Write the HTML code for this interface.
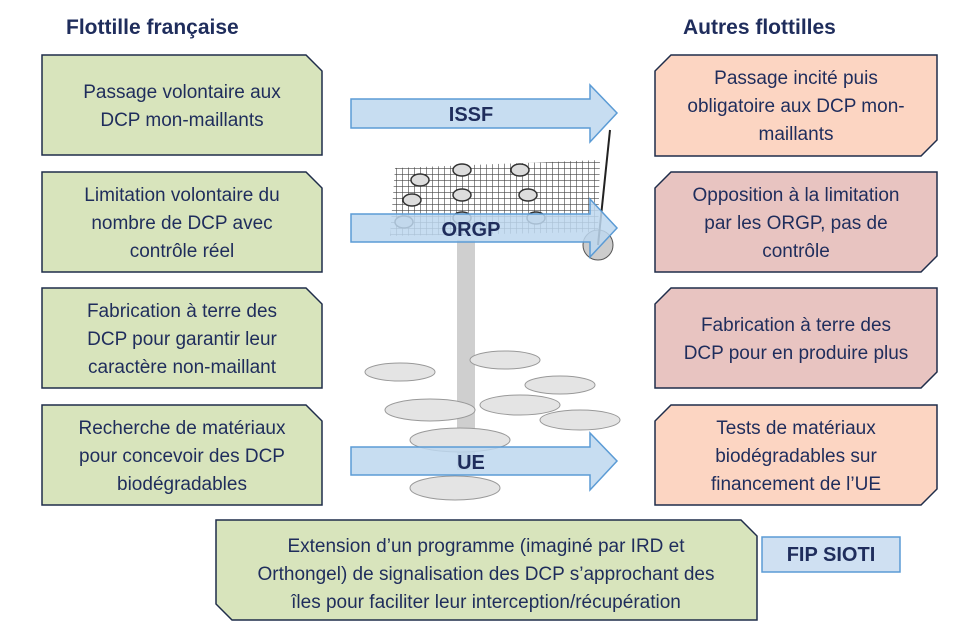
<!DOCTYPE html>
<html><head><meta charset="utf-8"><style>
body{margin:0;background:#fff}
svg{display:block;font-family:"Liberation Sans",sans-serif}
.t{font-size:19px;fill:#1f2d5c;text-anchor:middle}
.h{font-size:21px;font-weight:bold;fill:#1f2d5c}
.a{font-size:20px;font-weight:bold;fill:#1f2d5c;text-anchor:middle}
</style></head><body>
<svg width="980" height="634" viewBox="0 0 980 634">
<defs>
<pattern id="g" width="6" height="6" patternUnits="userSpaceOnUse"><path d="M0 0H6M0 0V6" stroke="#222" stroke-width="1.2" fill="none"/></pattern>
</defs>
<text class="h" x="66" y="34">Flottille française</text>
<text class="h" x="683" y="34">Autres flottilles</text>

<!-- illustration -->
<g>
<polygon points="395,168 600,160 598,232 390,236" fill="url(#g)" opacity="0.85"/>
<g fill="#ddd" stroke="#333" stroke-width="1.5">
<ellipse cx="420" cy="180" rx="9" ry="6"/><ellipse cx="412" cy="200" rx="9" ry="6"/><ellipse cx="404" cy="222" rx="9" ry="6"/>
<ellipse cx="462" cy="170" rx="9" ry="6"/><ellipse cx="462" cy="195" rx="9" ry="6"/><ellipse cx="462" cy="218" rx="9" ry="6"/>
<ellipse cx="520" cy="170" rx="9" ry="6"/><ellipse cx="528" cy="195" rx="9" ry="6"/><ellipse cx="536" cy="218" rx="9" ry="6"/>
</g>
<rect x="457" y="240" width="18" height="230" fill="#bbb" opacity="0.7"/>
<circle cx="598" cy="245" r="15" fill="#ccc" stroke="#555"/>
<line x1="598" y1="245" x2="610" y2="130" stroke="#222" stroke-width="2"/>
<g fill="#e4e4e4" stroke="#999">
<ellipse cx="400" cy="372" rx="35" ry="9"/>
<ellipse cx="505" cy="360" rx="35" ry="9"/>
<ellipse cx="560" cy="385" rx="35" ry="9"/>
<ellipse cx="430" cy="410" rx="45" ry="11"/>
<ellipse cx="520" cy="405" rx="40" ry="10"/>
<ellipse cx="580" cy="420" rx="40" ry="10"/>
<ellipse cx="460" cy="440" rx="50" ry="12"/>
<ellipse cx="455" cy="488" rx="45" ry="12"/>
</g></g>

<!-- arrows -->
<g fill="#bdd7ee" fill-opacity="0.85" stroke="#5b9bd5" stroke-width="1.5">
<polygon points="351,99 590,99 590,85 617,113 590,142 590,128 351,128"/>
<polygon points="351,214 590,214 590,199 617,228 590,257 590,242 351,242"/>
<polygon points="351,447 590,447 590,433 617,461 590,490 590,475 351,475"/>
</g>
<text class="a" x="471" y="121">ISSF</text>
<text class="a" x="471" y="236">ORGP</text>
<text class="a" x="471" y="469">UE</text>

<!-- left boxes -->
<g fill="#d8e4bc" stroke="#1f2d4a" stroke-width="1.5">
<polygon points="42,55 306,55 322,71 322,155 42,155"/>
<polygon points="42,172 306,172 322,188 322,272 42,272"/>
<polygon points="42,288 306,288 322,304 322,388 42,388"/>
<polygon points="42,405 306,405 322,421 322,505 42,505"/>
</g>
<text class="t" x="182" y="98">Passage volontaire aux</text>
<text class="t" x="182" y="126">DCP mon-maillants</text>
<text class="t" x="182" y="201">Limitation volontaire du</text>
<text class="t" x="182" y="229">nombre de DCP avec</text>
<text class="t" x="182" y="257">contrôle réel</text>
<text class="t" x="182" y="317">Fabrication à terre des</text>
<text class="t" x="182" y="345">DCP pour garantir leur</text>
<text class="t" x="182" y="373">caractère non-maillant</text>
<text class="t" x="182" y="434">Recherche de matériaux</text>
<text class="t" x="182" y="462">pour concevoir des DCP</text>
<text class="t" x="182" y="490">biodégradables</text>

<!-- right boxes -->
<polygon points="671,55 937,55 937,140 921,156 655,156 655,71" fill="#fcd5c2" stroke="#1f2d4a" stroke-width="1.5"/>
<polygon points="671,172 937,172 937,256 921,272 655,272 655,188" fill="#e8c4c1" stroke="#1f2d4a" stroke-width="1.5"/>
<polygon points="671,288 937,288 937,372 921,388 655,388 655,304" fill="#e8c4c1" stroke="#1f2d4a" stroke-width="1.5"/>
<polygon points="671,405 937,405 937,489 921,505 655,505 655,421" fill="#fcd5c2" stroke="#1f2d4a" stroke-width="1.5"/>
<text class="t" x="796" y="84">Passage incité puis</text>
<text class="t" x="796" y="112">obligatoire aux DCP mon-</text>
<text class="t" x="796" y="140">maillants</text>
<text class="t" x="796" y="201">Opposition à la limitation</text>
<text class="t" x="796" y="229">par les ORGP, pas de</text>
<text class="t" x="796" y="257">contrôle</text>
<text class="t" x="796" y="331">Fabrication à terre des</text>
<text class="t" x="796" y="359">DCP pour en produire plus</text>
<text class="t" x="796" y="434">Tests de matériaux</text>
<text class="t" x="796" y="462">biodégradables sur</text>
<text class="t" x="796" y="490">financement de l’UE</text>

<!-- bottom -->
<polygon points="216,520 741,520 757,536 757,620 232,620 216,604" fill="#d8e4bc" stroke="#1f2d4a" stroke-width="1.5"/>
<text class="t" x="486" y="552">Extension d’un programme (imaginé par IRD et</text>
<text class="t" x="486" y="580">Orthongel) de signalisation des DCP s’approchant des</text>
<text class="t" x="486" y="608">îles pour faciliter leur interception/récupération</text>
<rect x="762" y="537" width="138" height="35" fill="#cfe0f2" stroke="#5b9bd5" stroke-width="1.5"/>
<text class="a" x="831" y="561">FIP SIOTI</text>
</svg>
</body></html>
